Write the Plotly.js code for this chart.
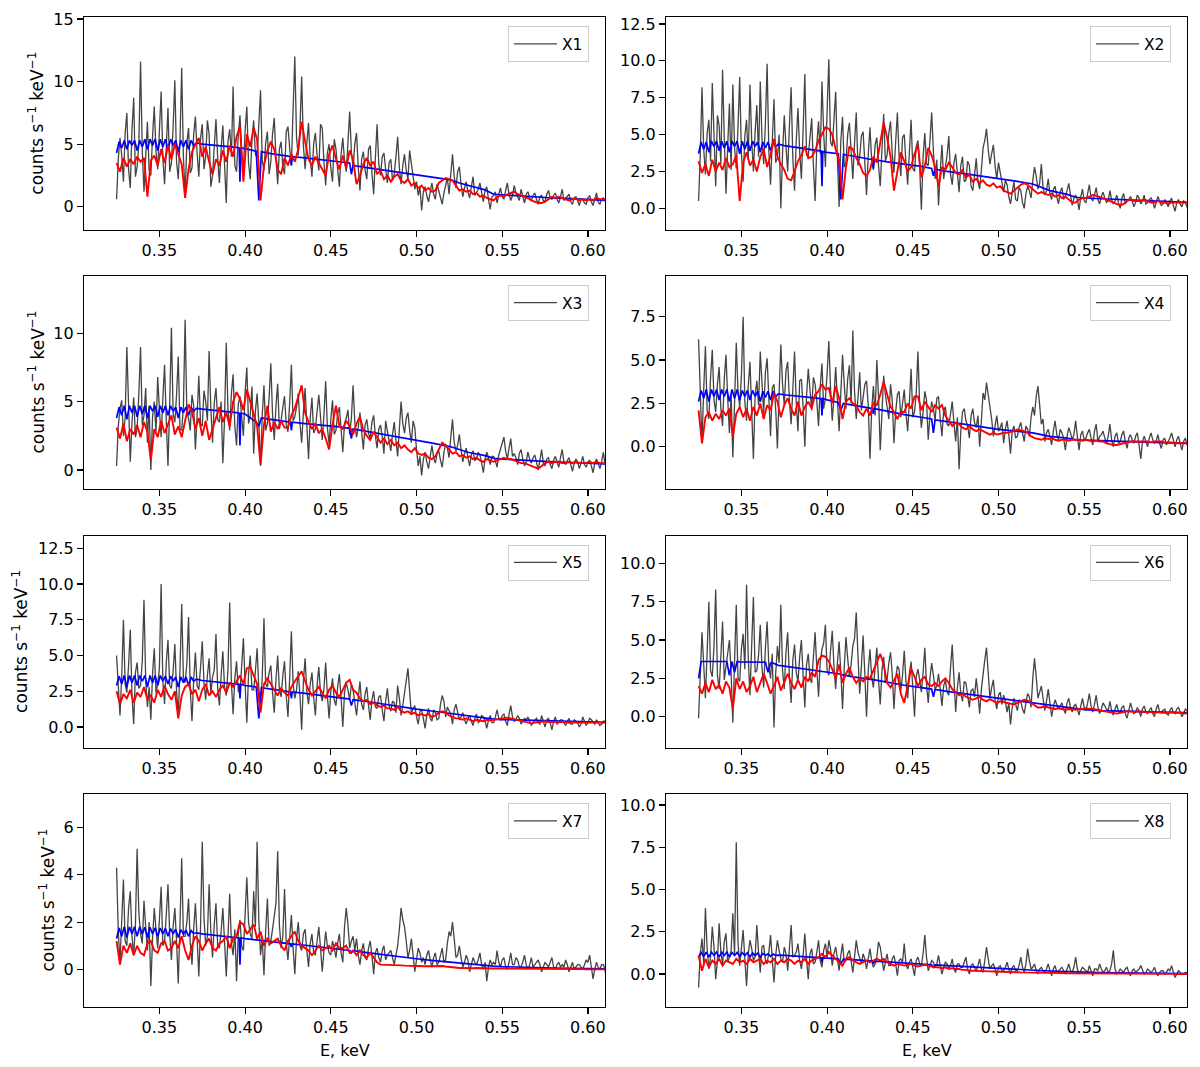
<!DOCTYPE html>
<html><head><meta charset="utf-8">
<script src="https://cdn.plot.ly/plotly-3.0.1.min.js"></script>
<style>html,body{margin:0;padding:0;background:#fff}#chart{width:1200px;height:1067px}</style>
</head><body><div id="chart"></div>
<script>
// Energy grid (keV) for observed spectra (1 eV bins)
const EG = [
0.325,0.326,0.327,0.328,0.329,0.330,0.331,0.332,0.333,0.334,0.335,0.336,0.337,0.338,0.339,0.340,0.341,0.342,0.343,0.344,
0.345,0.346,0.347,0.348,0.349,0.350,0.351,0.352,0.353,0.354,0.355,0.356,0.357,0.358,0.359,0.360,0.361,0.362,0.363,0.364,
0.365,0.366,0.367,0.368,0.369,0.370,0.371,0.372,0.373,0.374,0.375,0.376,0.377,0.378,0.379,0.380,0.381,0.382,0.383,0.384,
0.385,0.386,0.387,0.388,0.389,0.390,0.391,0.392,0.393,0.394,0.395,0.396,0.397,0.398,0.399,0.400,0.401,0.402,0.403,0.404,
0.405,0.406,0.407,0.408,0.409,0.410,0.411,0.412,0.413,0.414,0.415,0.416,0.417,0.418,0.419,0.420,0.421,0.422,0.423,0.424,
0.425,0.426,0.427,0.428,0.429,0.430,0.431,0.432,0.433,0.434,0.435,0.436,0.437,0.438,0.439,0.440,0.441,0.442,0.443,0.444,
0.445,0.446,0.447,0.448,0.449,0.450,0.451,0.452,0.453,0.454,0.455,0.456,0.457,0.458,0.459,0.460,0.461,0.462,0.463,0.464,
0.465,0.466,0.467,0.468,0.469,0.470,0.471,0.472,0.473,0.474,0.475,0.476,0.477,0.478,0.479,0.480,0.481,0.482,0.483,0.484,
0.485,0.486,0.487,0.488,0.489,0.490,0.491,0.492,0.493,0.494,0.495,0.496,0.497,0.498,0.499,0.500,0.501,0.502,0.503,0.504,
0.505,0.506,0.507,0.508,0.509,0.510,0.511,0.512,0.513,0.514,0.515,0.516,0.517,0.518,0.519,0.520,0.521,0.522,0.523,0.524,
0.525,0.526,0.527,0.528,0.529,0.530,0.531,0.532,0.533,0.534,0.535,0.536,0.537,0.538,0.539,0.540,0.541,0.542,0.543,0.544,
0.545,0.546,0.547,0.548,0.549,0.550,0.551,0.552,0.553,0.554,0.555,0.556,0.557,0.558,0.559,0.560,0.561,0.562,0.563,0.564,
0.565,0.566,0.567,0.568,0.569,0.570,0.571,0.572,0.573,0.574,0.575,0.576,0.577,0.578,0.579,0.580,0.581,0.582,0.583,0.584,
0.585,0.586,0.587,0.588,0.589,0.590,0.591,0.592,0.593,0.594,0.595,0.596,0.597,0.598,0.599,0.600,0.601,0.602,0.603,0.604,
0.605,0.606,0.607,0.608,0.609,0.610,0.611];

// Energy grid (keV) for the smoothed fits
const E = [
0.325,0.327,0.329,0.331,0.333,0.335,0.337,0.339,0.341,0.343,
0.345,0.347,0.349,0.351,0.353,0.355,0.357,0.359,0.361,0.363,
0.365,0.367,0.369,0.371,0.373,0.375,0.377,0.379,0.381,0.383,
0.385,0.387,0.389,0.391,0.393,0.395,0.397,0.399,0.401,0.403,
0.405,0.407,0.409,0.411,0.413,0.415,0.417,0.419,0.421,0.423,
0.425,0.427,0.429,0.431,0.433,0.435,0.437,0.439,0.441,0.443,
0.445,0.447,0.449,0.451,0.453,0.455,0.457,0.459,0.461,0.463,
0.465,0.467,0.469,0.471,0.473,0.475,0.477,0.479,0.481,0.483,
0.485,0.487,0.489,0.491,0.493,0.495,0.497,0.499,0.501,0.503,
0.505,0.507,0.509,0.511,0.513,0.515,0.517,0.519,0.521,0.523,
0.525,0.527,0.529,0.531,0.533,0.535,0.537,0.539,0.541,0.543,
0.545,0.547,0.549,0.551,0.553,0.555,0.557,0.559,0.561,0.563,
0.565,0.567,0.569,0.571,0.573,0.575,0.577,0.579,0.581,0.583,
0.585,0.587,0.589,0.591,0.593,0.595,0.597,0.599,0.601,0.603,
0.605,0.607,0.609,0.611];

// Energy grid (keV) for the model curves
const EB = [
0.325,0.3265,0.328,0.3295,0.331,0.3325,0.334,0.3355,0.337,0.3385,
0.340,0.3415,0.343,0.3445,0.346,0.3475,0.349,0.3505,0.352,0.3535,
0.355,0.3565,0.358,0.3595,0.361,0.3625,0.364,0.3655,0.367,0.3685,
0.370,0.3715,
0.375,0.385,0.395,0.3965,0.397,0.3975,0.400,0.4065,
0.408,0.4095,0.415,0.425,0.4265,0.427,0.4275,0.435,0.445,0.455,
0.461,0.462,0.463,0.470,0.480,0.490,0.500,0.510,0.520,0.525,
0.530,0.540,0.545,0.550,0.560,0.570,0.580,0.590,0.600,0.611];

const seriesNames = ['X1','X2','X3','X4','X5','X6','X7','X8'];

// ---- X1 ----
const x1Data = [
0.6,3.8,5.5,4.1,2.0,5.9,7.5,3.0,1.5,6.2,8.7,2.4,3.2,5.0,11.6,4.5,1.2,3.7,6.8,2.9,
2.5,5.6,8.0,4.4,3.0,6.1,9.2,3.9,1.8,4.7,7.9,2.8,3.5,6.4,10.1,3.6,2.2,5.3,11.1,4.0,
0.8,5.1,6.3,2.7,3.1,5.8,7.2,4.3,2.4,5.5,6.6,3.0,4.0,6.9,5.8,1.6,2.5,4.8,7.0,3.9,
1.9,4.6,6.5,3.4,0.3,5.2,6.2,4.0,9.6,3.3,2.8,5.7,7.3,4.4,3.0,6.1,8.0,3.5,2.2,5.4,
6.9,4.2,3.9,6.6,9.3,3.7,2.9,5.1,6.0,2.6,3.6,5.8,7.1,3.9,1.8,4.6,5.2,3.2,2.6,6.0,
6.4,4.7,3.3,7.8,12.0,5.5,4.1,6.3,10.4,4.9,3.0,5.1,6.7,3.8,2.4,5.0,5.9,4.1,2.9,6.6,
6.3,3.6,1.7,4.3,5.0,3.1,2.0,5.4,4.6,3.0,1.6,4.2,5.5,3.7,2.8,5.1,7.6,4.4,3.1,5.0,
5.9,3.2,1.3,3.8,4.4,2.9,2.2,4.6,4.9,2.7,1.0,3.9,6.6,3.4,2.5,4.0,4.3,3.0,1.9,3.5,
3.8,2.1,2.6,4.0,5.6,3.1,1.8,3.3,4.2,2.9,2.2,4.5,3.6,2.4,1.4,2.0,0.9,1.6,-0.3,1.2,
1.6,0.9,0.4,1.2,1.9,1.0,0.6,1.8,1.3,0.7,0.2,1.1,1.7,2.3,1.0,2.6,4.2,2.4,1.5,2.8,
3.2,1.8,0.8,1.5,2.0,1.2,0.7,1.6,2.4,0.9,1.1,1.4,1.9,1.0,0.4,1.3,1.6,0.6,-0.2,0.8,
0.9,1.2,0.3,1.0,1.5,0.8,0.6,1.3,1.9,1.0,0.5,0.9,1.7,1.1,0.8,0.5,1.4,0.9,0.3,1.0,
1.2,0.7,0.5,0.9,1.1,0.6,0.2,0.8,0.9,0.5,0.4,1.0,1.3,0.7,0.6,0.9,1.1,0.6,0.3,0.8,
1.4,0.5,0.7,0.9,1.0,0.4,0.2,0.7,0.8,0.5,0.1,0.6,0.6,0.3,0.2,0.7,0.9,0.4,0.1,0.6,
1.1,0.4,0.2,0.6,0.7,0.5,0.3];
const x1Fit = [
3.5,2.8,3.9,3.2,3.8,3.4,4.0,3.6,3.9,0.8,
3.7,4.1,3.3,4.6,3.5,4.9,3.8,5.0,4.2,3.4,
0.7,3.0,4.4,4.9,5.5,4.0,4.8,3.6,2.6,3.8,
3.3,4.5,3.6,4.9,4.0,5.6,6.4,2.0,5.8,4.8,
6.3,5.4,0.5,3.3,4.5,5.2,4.6,3.0,2.6,3.9,
3.3,4.2,3.6,4.6,6.8,5.2,3.8,3.3,4.0,3.5,
3.0,2.5,4.2,4.9,3.8,3.0,4.1,3.1,4.5,3.8,
1.8,2.5,3.4,3.9,3.3,3.6,2.6,2.9,2.2,2.5,
2.0,2.4,2.6,2.1,1.9,2.2,1.7,1.9,1.5,1.7,
1.3,1.5,1.2,1.3,1.9,2.1,2.3,2.2,2.1,1.7,
1.3,1.4,1.2,1.3,1.0,1.1,0.8,0.9,0.7,0.6,
0.5,0.8,0.9,0.8,1.0,1.1,1.2,1.0,0.9,0.8,
0.7,0.5,0.4,0.3,0.3,0.4,0.6,0.8,0.7,0.8,
0.7,0.6,0.5,0.6,0.7,0.5,0.6,0.5,0.6,0.5,
0.7,0.6,0.6,0.6];
const x1Model = [
4.3,5.2,4.7,5.3,4.6,5.3,4.9,5.3,4.5,5.3,
4.8,5.4,4.6,5.4,4.9,5.4,4.5,5.4,4.8,5.4,
4.6,5.4,4.9,5.3,4.4,5.3,4.8,5.3,4.6,5.3,
4.9,5.1,
5.0,4.9,4.75,4.7,2.0,4.7,4.65,4.45,
0.5,4.4,4.25,4.05,4.0,3.3,4.0,3.9,3.75,3.6,
3.5,2.6,3.3,3.15,2.95,2.8,2.6,2.4,2.15,1.9,
1.7,1.35,1.0,0.95,0.85,0.78,0.7,0.65,0.6,0.5];

// ---- X2 ----
const x2Data = [
0.5,3.6,8.2,4.0,2.3,5.1,6.0,3.2,8.5,4.4,1.5,6.3,5.6,3.0,9.4,4.8,1.0,4.2,7.1,2.6,
8.4,4.1,2.7,5.5,8.9,3.7,1.8,4.9,6.0,3.3,8.4,4.6,2.5,5.2,7.0,3.5,8.6,4.7,3.0,5.8,
9.8,3.9,1.6,4.5,7.4,3.1,3.4,5.0,0.0,3.7,6.3,4.2,2.5,5.6,8.2,3.4,1.2,4.6,6.8,3.8,
2.0,5.3,9.1,3.6,3.5,4.8,6.1,2.9,0.5,4.4,5.9,3.7,8.6,5.1,2.8,6.6,10.1,4.5,4.2,6.0,
7.9,3.4,0.1,4.6,6.2,2.8,3.1,5.0,5.8,3.9,2.0,4.4,6.5,2.9,3.5,4.9,5.2,3.1,0.9,3.6,
5.5,3.3,2.6,4.3,4.8,2.9,1.5,4.0,6.4,3.2,3.6,5.1,5.9,3.7,2.4,4.5,6.5,3.5,2.2,4.8,
5.0,3.1,1.6,3.8,6.0,2.7,2.5,4.2,4.6,2.8,-0.1,3.5,5.1,3.0,2.9,4.6,6.5,3.9,2.0,3.3,
0.2,2.5,4.3,2.0,2.7,3.6,4.9,2.3,1.6,3.1,3.7,2.6,1.1,2.9,3.5,1.8,1.9,3.2,2.9,1.5,
1.2,2.2,3.4,1.8,1.3,2.6,4.1,4.6,5.4,4.0,3.0,3.7,4.3,2.9,2.0,3.1,2.4,1.6,1.1,1.9,
1.6,0.8,0.3,1.1,1.8,0.6,0.5,1.4,1.2,0.4,0.0,1.0,1.5,1.2,0.7,1.9,2.8,2.2,1.3,1.7,
3.0,1.4,0.9,1.2,2.0,1.0,0.6,1.3,1.5,0.8,0.3,1.1,1.4,0.6,0.8,1.2,1.7,0.9,0.2,0.7,
0.9,0.6,-0.1,0.8,1.3,0.5,0.4,1.0,1.6,0.7,0.5,0.9,1.4,0.6,0.3,0.8,1.1,0.7,0.4,0.5,
1.2,0.6,0.3,0.5,0.9,0.4,0.0,0.7,1.0,0.3,0.5,0.6,0.8,0.5,0.1,0.4,0.9,0.7,0.3,0.5,
0.9,0.3,0.4,0.6,0.7,0.5,0.0,0.4,0.8,0.5,0.2,0.3,0.6,0.4,0.1,0.5,0.7,0.2,-0.2,0.4,
0.6,0.3,0.1,0.5,0.4,0.1,0.2];
const x2Fit = [
3.2,2.4,3.0,2.2,3.3,2.5,3.1,2.6,3.4,2.8,
3.0,3.6,0.5,3.1,3.8,2.9,3.3,2.5,3.5,4.0,
2.8,3.6,4.7,3.5,3.0,2.6,2.0,1.9,2.5,3.2,
3.6,4.2,3.4,3.5,3.9,4.6,5.0,5.5,5.4,5.0,
4.0,3.2,0.6,2.8,4.2,4.0,3.4,3.0,2.4,2.2,
2.6,3.5,3.1,4.6,5.8,4.8,3.5,1.2,2.6,3.8,
3.2,2.5,2.8,3.7,4.3,2.1,2.9,4.1,3.6,2.8,
1.5,2.8,2.6,3.1,2.8,2.4,2.3,2.6,2.1,2.3,
1.8,2.0,1.7,1.9,1.6,1.5,1.7,1.4,1.5,1.2,
1.1,1.0,1.2,1.4,1.6,1.7,1.6,1.4,1.2,1.0,
1.1,1.0,0.9,1.0,0.8,0.9,0.7,0.8,0.6,0.4,
0.4,0.6,0.7,0.7,0.8,0.9,0.85,0.8,0.7,0.6,
0.5,0.4,0.3,0.2,0.3,0.5,0.6,0.5,0.5,0.5,
0.6,0.5,0.4,0.4,0.5,0.4,0.4,0.3,0.4,0.4,
0.4,0.4,0.4,0.4];
const x2Model = [
3.7,4.5,4.0,4.5,3.8,4.55,4.2,4.55,3.9,4.55,
4.1,4.55,3.8,4.55,4.2,4.55,3.7,4.55,4.0,4.55,
3.9,4.55,4.2,4.5,3.8,4.5,4.1,4.5,3.9,4.5,
4.2,4.35,
4.25,4.1,3.9,3.88,1.5,3.85,3.8,3.7,
0.6,3.65,3.55,3.35,3.3,2.7,3.3,3.15,3.0,2.85,
2.7,2.2,2.65,2.5,2.35,2.2,2.0,1.85,1.65,1.4,
1.2,0.95,0.75,0.7,0.65,0.6,0.55,0.5,0.45,0.4];

// ---- X3 ----
const x3Data = [
0.3,3.2,4.5,5.1,2.5,3.8,9.0,4.0,0.6,3.5,5.3,2.4,3.0,5.6,9.0,3.3,4.0,6.0,2.0,4.7,
0.0,3.9,5.0,2.8,6.8,4.4,2.4,5.2,7.7,3.6,0.3,4.8,10.4,4.1,3.5,5.5,8.3,3.0,2.9,4.6,
11.0,4.2,3.8,2.9,5.5,4.7,1.5,4.0,6.9,3.4,3.2,5.8,5.0,3.6,8.7,4.5,2.0,4.9,6.0,3.7,
3.5,5.0,0.5,3.7,9.3,4.4,2.9,5.6,7.0,3.2,1.8,4.8,5.4,3.9,2.5,5.7,7.5,3.4,4.0,6.1,
1.2,4.3,5.6,3.5,0.3,4.0,6.2,2.9,3.4,5.3,7.8,4.1,2.2,4.7,6.3,3.0,3.6,4.6,5.4,3.3,
2.8,4.9,7.7,3.6,3.9,4.6,5.6,3.4,2.0,4.2,6.0,3.3,0.8,3.8,5.3,2.7,3.0,4.3,5.5,3.9,
2.2,4.0,6.5,3.1,1.9,3.7,5.1,2.6,2.9,4.1,4.6,3.0,1.3,3.4,3.8,4.4,2.6,3.8,6.2,3.5,
2.4,3.1,4.2,2.8,1.5,3.3,3.7,2.7,2.3,3.5,4.0,2.5,1.6,3.0,3.3,2.4,1.2,3.6,2.9,2.2,
1.4,2.6,3.5,2.2,1.0,3.0,5.0,3.4,2.7,3.8,4.2,2.9,2.0,3.6,3.1,1.5,0.3,1.0,-0.4,0.8,
1.3,0.6,0.1,1.0,1.8,0.9,0.5,1.2,1.4,0.7,0.2,1.3,1.9,1.6,0.9,2.4,3.7,2.0,1.4,1.8,
2.6,1.5,0.6,1.2,1.6,0.9,0.3,1.1,1.4,0.7,0.8,1.3,1.1,0.5,-0.2,0.8,1.3,0.9,0.4,1.0,
1.0,0.7,0.2,1.1,1.6,1.9,2.4,1.4,0.8,1.6,2.3,1.0,1.2,0.9,0.4,1.2,1.5,0.8,0.3,0.6,
1.3,0.8,0.5,0.9,1.1,0.6,0.0,0.7,1.5,0.5,0.3,0.8,0.9,0.4,0.1,0.7,1.0,0.6,0.2,0.9,
1.5,0.6,0.4,0.7,0.9,0.4,-0.1,0.5,0.8,0.6,0.1,0.5,1.0,0.4,0.2,0.6,0.7,0.3,-0.2,0.5,
0.8,0.5,0.1,0.6,1.3,0.4,0.5];
const x3Fit = [
3.1,2.3,3.4,2.1,3.0,2.6,3.3,2.4,3.5,2.8,
0.7,3.0,2.4,3.6,2.7,3.4,4.0,2.6,3.2,2.4,
3.5,4.8,4.3,3.0,3.8,2.5,3.6,2.2,3.0,3.9,
4.6,3.5,4.2,3.2,5.0,5.7,5.2,4.4,5.9,5.0,
4.0,3.2,0.4,3.3,4.7,2.8,3.5,3.0,3.6,3.1,
3.1,4.0,4.5,5.3,6.2,4.2,3.5,3.0,3.4,2.7,
3.0,2.3,1.5,3.3,4.7,3.2,3.0,3.6,3.2,2.6,
3.4,3.9,2.9,2.5,2.2,2.8,2.4,2.0,2.3,1.9,
2.2,1.8,2.0,1.6,1.8,1.5,1.3,1.6,1.2,1.1,
1.2,0.9,0.8,1.0,1.5,2.0,1.8,1.5,1.2,1.3,
1.0,1.1,0.9,1.0,0.8,0.9,0.7,0.6,0.8,0.7,
0.6,0.7,0.8,0.9,0.8,0.8,0.7,0.6,0.5,0.5,
0.4,0.3,0.2,0.1,0.3,0.5,0.6,0.5,0.6,0.6,
0.5,0.5,0.6,0.5,0.6,0.5,0.5,0.5,0.6,0.5,
0.6,0.5,0.5,0.5];
const x3Model = [
3.8,4.6,4.0,4.7,3.7,4.7,4.2,4.7,3.9,4.7,
4.1,4.7,3.8,4.7,4.3,4.7,3.9,4.7,4.2,4.7,
4.0,4.7,4.3,4.6,3.8,4.6,4.2,4.6,4.0,4.6,
4.3,4.5,
4.45,4.35,4.2,4.15,1.8,4.15,4.1,3.5,
3.2,3.8,3.7,3.55,3.5,2.9,3.5,3.4,3.3,3.15,
3.05,2.3,3.0,2.85,2.6,2.4,2.2,1.95,1.7,1.5,
1.3,1.05,0.85,0.8,0.72,0.65,0.6,0.55,0.5,0.45];

// ---- X4 ----
const x4Data = [
6.2,2.4,0.2,3.3,5.8,2.1,1.6,4.0,5.6,2.7,2.0,3.6,4.6,2.2,1.2,3.9,5.3,2.8,0.8,3.0,
-0.6,2.5,6.0,3.2,2.3,4.1,7.5,2.6,1.5,3.5,4.9,2.0,-0.7,3.0,3.8,2.4,5.5,3.7,1.9,4.3,
5.1,2.8,0.6,3.4,3.6,2.2,-0.1,3.1,5.9,3.6,2.4,4.4,4.9,2.7,1.3,3.3,5.5,2.5,0.9,3.8,
3.9,2.3,0.0,2.9,4.5,3.3,2.1,4.0,3.6,2.6,1.2,3.5,4.8,2.2,2.8,4.2,6.1,3.4,1.5,2.9,
4.6,2.7,0.9,3.1,5.3,3.6,2.2,3.9,4.7,2.5,6.7,3.2,1.6,2.8,4.3,2.1,2.9,3.6,3.8,2.4,
-0.7,2.1,3.5,1.8,5.0,2.9,-0.2,2.3,4.1,3.0,2.4,1.6,3.6,2.7,0.2,2.0,3.0,3.2,1.7,2.5,
3.3,1.9,0.9,2.6,4.5,1.7,2.0,3.1,5.5,2.4,1.1,2.0,3.2,2.7,0.4,1.8,2.6,2.2,1.5,2.8,
2.9,1.6,0.6,2.1,2.3,1.3,1.2,1.9,2.6,1.4,0.3,1.7,-1.3,0.9,2.0,2.2,1.5,1.2,0.5,1.8,
2.2,1.4,1.1,1.8,0.0,1.5,3.1,2.7,3.7,3.0,2.4,1.6,0.6,1.3,1.8,0.9,1.1,1.4,0.2,1.0,
1.5,0.7,-0.4,0.9,1.2,0.5,0.6,1.1,1.4,0.8,0.3,1.2,1.0,0.6,1.7,2.3,1.8,2.9,3.5,2.4,
1.3,1.6,0.3,0.8,1.0,0.6,0.1,0.9,1.5,0.7,0.4,1.0,0.8,0.5,-0.2,0.6,1.1,0.8,0.4,0.7,
1.5,0.6,-0.2,0.7,0.9,0.4,0.5,0.8,1.0,0.5,0.1,0.9,1.3,0.3,0.6,0.7,0.9,0.5,0.2,0.6,
1.3,0.4,0.0,0.6,0.8,0.2,0.3,0.7,0.9,0.3,-0.1,0.5,0.7,0.4,0.2,0.6,0.8,0.1,-0.7,0.3,
0.6,0.3,0.0,0.5,0.8,0.4,0.2,0.3,0.7,0.2,-0.1,0.4,0.5,0.1,0.3,0.5,0.8,0.3,0.0,0.4,
0.6,0.2,-0.2,0.3,0.5,0.1,0.3];
const x4Fit = [
2.1,0.2,1.7,2.0,1.5,1.9,1.6,2.1,1.8,2.2,
0.6,1.9,2.3,1.7,2.2,1.5,2.3,1.8,2.5,1.6,
2.4,2.1,3.1,2.6,1.7,2.4,2.8,2.2,1.8,2.6,
1.8,2.3,2.6,2.2,3.0,3.2,3.6,3.3,3.4,2.5,
3.5,2.8,1.6,2.6,2.8,2.5,2.4,2.0,1.8,2.2,
1.8,2.5,2.4,3.0,3.75,3.0,2.3,2.0,1.6,2.0,
2.0,2.5,2.2,2.9,2.9,2.1,2.6,2.3,2.0,2.4,
2.2,2.4,1.8,1.5,1.2,1.4,1.3,1.1,1.0,1.2,
1.0,0.9,1.0,0.9,0.8,0.7,0.8,0.7,0.75,0.8,
0.8,0.85,0.9,1.0,0.95,0.9,0.8,0.6,0.5,0.45,
0.4,0.5,0.45,0.5,0.4,0.35,0.4,0.4,0.35,0.4,
0.4,0.4,0.35,0.4,0.35,0.3,0.35,0.3,0.3,0.2,
0.15,0.1,0.1,0.15,0.2,0.25,0.3,0.3,0.3,0.3,
0.3,0.3,0.25,0.3,0.3,0.3,0.25,0.25,0.25,0.2,
0.2,0.2,0.2,0.2];
const x4Model = [
2.6,3.25,2.8,3.3,2.6,3.3,2.9,3.3,2.7,3.3,
2.9,3.3,2.6,3.3,2.8,3.3,2.7,3.25,2.9,3.25,
2.7,3.25,2.9,3.2,2.6,3.2,2.85,3.2,2.7,3.2,
2.9,3.05,
3.0,2.9,2.8,2.78,1.8,2.78,2.7,2.55,
2.1,2.5,2.4,2.25,2.2,1.9,2.2,2.05,1.85,1.7,
1.6,0.8,1.55,1.45,1.3,1.15,1.0,0.9,0.8,0.7,
0.6,0.5,0.4,0.38,0.34,0.3,0.27,0.24,0.22,0.2];

// ---- X5 ----
const x5Data = [
5.0,2.6,0.8,3.5,7.5,3.0,2.4,4.3,6.8,2.2,0.2,3.8,4.5,2.7,2.9,4.6,8.9,3.3,1.4,2.8,
0.5,3.7,5.5,2.4,3.0,4.1,10.0,3.2,1.6,4.5,6.1,2.9,2.7,3.9,5.8,2.5,0.9,4.0,8.6,3.4,
3.1,4.4,7.7,2.6,0.4,3.3,5.2,2.9,2.6,4.2,6.0,3.1,1.9,3.6,4.8,2.3,3.5,4.0,6.5,2.7,
1.5,3.6,5.3,2.8,2.2,4.0,8.7,3.1,0.9,3.4,4.6,2.5,2.4,4.3,6.2,3.0,0.3,3.7,5.0,2.6,
2.6,3.9,5.5,2.7,1.4,3.5,7.6,3.0,2.8,3.8,4.3,2.4,1.0,3.3,5.0,2.6,2.1,3.6,4.6,2.2,
0.7,3.4,6.7,3.0,2.0,2.6,3.9,2.2,-0.2,3.2,4.8,2.5,1.6,3.0,3.8,2.1,0.8,2.9,4.2,2.4,
1.8,2.7,4.5,2.2,0.6,2.5,3.4,1.9,1.5,2.8,3.7,2.0,0.0,2.4,3.1,2.6,1.9,3.0,2.6,1.7,
0.8,2.0,3.2,1.6,1.2,2.3,2.8,1.5,0.5,1.9,2.5,1.4,1.3,2.1,2.2,1.2,0.4,1.8,2.7,1.5,
1.1,1.8,1.7,1.0,2.9,2.0,0.8,1.5,2.3,3.0,4.1,2.5,0.9,1.3,1.5,0.7,0.2,1.1,1.2,0.6,
-0.1,0.8,1.3,0.6,0.4,1.2,1.0,0.5,0.6,1.6,2.2,1.8,0.7,1.4,1.2,0.9,0.2,1.2,1.6,1.0,
0.5,0.7,1.0,0.5,0.2,0.6,0.8,0.4,0.1,0.6,0.9,0.3,0.4,0.8,0.7,0.4,-0.1,0.5,0.8,0.3,
0.3,0.7,1.2,0.6,0.5,0.8,0.9,0.4,0.1,0.9,1.5,0.7,0.4,0.5,0.8,0.6,0.2,0.4,0.6,0.5,
0.7,0.4,0.1,0.3,0.5,0.6,0.3,0.2,0.8,0.4,0.0,0.5,0.6,0.3,-0.2,0.4,0.7,0.2,0.3,0.5,
0.5,0.3,0.1,0.4,0.6,0.2,0.2,0.5,0.4,0.3,0.0,0.2,0.7,0.4,0.1,0.3,0.6,0.5,0.3,0.2,
0.5,0.3,0.1,0.2,0.4,0.4,0.2];
const x5Fit = [
2.5,1.6,2.3,2.0,2.6,1.7,2.4,2.1,2.8,1.9,
2.2,1.7,2.6,2.1,2.9,2.3,1.9,2.5,0.6,2.2,
2.8,3.0,2.3,2.6,1.8,2.6,3.0,2.2,2.5,2.1,
2.6,2.9,2.4,3.1,2.8,3.2,3.6,3.0,4.1,4.2,
3.6,3.0,1.0,3.0,3.4,3.0,2.5,2.2,2.7,2.4,
2.2,2.8,3.2,3.6,3.9,3.2,2.6,2.2,2.5,2.8,
2.4,2.0,2.6,2.9,2.4,2.1,2.6,3.1,3.3,2.6,
2.4,2.0,1.8,1.9,1.6,1.7,1.5,1.4,1.5,1.3,
1.3,1.2,1.4,1.1,1.0,1.1,0.9,1.0,0.8,0.9,
0.8,0.9,0.7,0.8,1.0,1.1,1.0,0.8,0.7,0.6,
0.6,0.5,0.6,0.5,0.4,0.5,0.45,0.4,0.5,0.45,
0.5,0.55,0.6,0.6,0.65,0.6,0.55,0.5,0.45,0.4,
0.3,0.25,0.3,0.35,0.4,0.4,0.35,0.35,0.4,0.35,
0.4,0.35,0.3,0.35,0.3,0.3,0.35,0.3,0.3,0.3,
0.3,0.3,0.3,0.3];
const x5Model = [
2.9,3.55,3.0,3.6,2.8,3.6,3.1,3.6,2.9,3.6,
3.2,3.6,2.8,3.6,3.1,3.6,2.9,3.6,3.2,3.55,
3.0,3.55,3.2,3.5,2.8,3.5,3.1,3.5,2.9,3.5,
3.2,3.35,
3.25,3.15,3.0,2.98,2.0,2.98,2.9,2.8,
0.6,2.75,2.65,2.5,2.45,2.0,2.45,2.35,2.2,2.05,
1.95,1.5,1.9,1.8,1.6,1.4,1.25,1.1,0.95,0.85,
0.75,0.62,0.55,0.52,0.48,0.44,0.4,0.37,0.35,0.32];

// ---- X6 ----
const x6Data = [
-0.1,2.9,5.5,3.4,1.2,4.2,7.5,3.0,2.6,4.6,8.3,2.7,1.8,3.9,6.2,2.4,3.4,4.1,5.0,2.8,
-0.4,3.6,7.3,2.5,2.3,4.4,5.4,3.1,8.6,3.8,1.4,4.7,7.8,2.9,3.0,4.0,6.0,3.2,1.9,4.5,
6.2,3.3,2.5,4.1,-0.7,2.8,4.6,3.5,7.3,3.0,1.8,4.2,5.5,2.6,0.9,3.7,4.7,2.9,2.3,3.9,
5.0,2.7,0.6,3.4,4.1,2.5,2.2,3.9,5.5,3.1,1.3,3.6,4.4,4.8,6.0,3.0,2.7,4.3,5.6,3.3,
1.8,3.5,4.9,2.9,0.5,3.2,5.2,3.8,2.6,3.4,4.6,5.1,6.8,4.0,1.5,3.3,5.3,2.8,0.0,3.0,
4.4,2.6,1.9,3.2,4.5,2.4,0.8,3.0,3.9,2.2,2.4,3.5,4.2,2.8,0.5,2.5,3.3,3.1,1.7,2.7,
4.3,2.3,1.2,2.8,3.6,1.9,0.0,2.6,3.1,2.4,1.6,2.9,4.5,2.1,0.9,2.5,3.5,2.7,1.8,2.0,
2.8,1.8,0.7,2.0,2.4,1.6,1.4,3.2,4.7,2.5,0.3,1.9,2.9,1.5,1.0,2.3,2.2,1.4,0.6,1.7,
1.8,1.3,2.5,1.5,0.2,1.8,3.0,3.7,4.5,2.8,1.2,1.9,2.4,1.1,0.5,1.4,1.6,0.8,1.4,1.0,
0.3,0.9,-0.5,0.6,1.2,0.8,0.4,1.1,1.0,0.5,0.2,0.9,1.5,1.3,0.6,2.5,3.8,2.6,1.2,1.6,
2.0,1.2,0.4,1.0,1.8,0.9,0.0,0.6,1.1,0.8,0.5,0.7,0.9,0.5,0.2,0.9,1.2,0.6,0.3,0.7,
0.8,0.5,0.1,0.7,1.2,0.6,0.4,0.9,1.5,0.7,0.3,0.8,1.4,0.6,0.2,0.5,0.9,0.7,0.5,0.4,
1.0,0.4,0.1,0.5,0.8,0.3,0.3,0.6,0.7,0.2,-0.1,0.4,0.9,0.5,0.2,0.3,0.6,0.4,0.0,0.5,
0.7,0.3,0.2,0.4,0.6,0.2,0.0,0.5,0.8,0.3,0.3,0.4,0.5,0.2,0.1,0.4,0.6,0.3,0.2,0.5,
0.6,0.3,0.0,0.2,0.5,0.4,0.3];
const x6Fit = [
2.0,1.5,2.2,1.6,2.4,1.8,2.1,1.5,2.3,1.9,
0.5,2.5,1.8,2.3,1.6,2.0,2.6,1.6,2.2,2.8,
2.2,1.5,2.0,2.6,1.7,2.3,2.8,2.2,1.8,2.4,
1.9,2.6,2.3,2.9,2.6,3.7,4.0,3.9,3.6,3.1,
2.5,3.4,2.2,2.8,3.2,2.6,2.2,2.5,2.3,2.6,
2.5,3.0,3.6,4.1,3.4,2.2,1.9,2.4,2.8,1.5,
0.9,2.0,3.15,2.6,2.0,2.4,2.6,2.1,2.0,2.2,
2.0,2.3,2.5,2.2,1.8,1.6,1.4,1.5,1.3,1.2,
1.1,1.2,1.3,1.1,1.0,1.15,1.0,0.9,1.0,0.95,
0.9,0.85,0.8,0.9,1.0,1.1,1.05,0.9,0.7,0.6,
0.6,0.7,0.6,0.55,0.5,0.55,0.5,0.45,0.5,0.45,
0.45,0.5,0.5,0.55,0.5,0.5,0.45,0.45,0.4,0.35,
0.3,0.25,0.2,0.25,0.3,0.35,0.35,0.3,0.35,0.3,
0.3,0.3,0.3,0.25,0.3,0.25,0.25,0.25,0.3,0.25,
0.25,0.25,0.2,0.25];
const x6Model = [
2.5,3.6,3.6,3.6,3.6,3.6,3.6,3.6,3.6,3.6,
3.6,3.6,2.7,3.6,2.9,3.6,3.58,3.58,3.58,3.58,
3.57,3.57,3.56,3.56,3.55,3.55,3.55,2.9,3.5,3.5,
3.45,3.35,
3.3,3.15,3.0,2.98,2.98,2.98,2.9,2.8,
2.75,2.73,2.6,2.45,2.42,2.42,2.4,2.25,2.05,1.9,
1.8,1.3,1.78,1.65,1.5,1.35,1.2,1.05,0.9,0.8,
0.72,0.58,0.5,0.46,0.4,0.36,0.33,0.3,0.28,0.26];

// ---- X7 ----
const x7Data = [
4.3,1.6,0.3,2.2,3.8,1.2,1.0,2.6,3.3,1.4,0.6,1.9,5.1,2.4,1.5,1.1,2.9,1.8,0.8,2.0,
-0.7,1.3,2.6,1.7,0.9,2.1,3.5,1.0,1.2,2.3,3.6,1.5,0.4,1.8,2.6,1.2,-0.6,1.9,4.7,1.4,
1.4,2.0,3.0,1.1,0.2,1.7,2.8,1.3,-0.3,1.8,5.4,2.2,1.0,1.4,3.6,1.6,0.5,1.9,2.8,1.0,
0.9,1.6,2.6,1.2,-0.3,1.4,3.2,1.1,0.6,1.7,-0.5,1.5,2.1,1.0,0.8,2.3,3.9,2.0,1.5,1.3,
3.3,1.8,5.4,2.1,0.6,1.3,-0.25,1.6,3.0,1.0,1.2,1.7,2.4,2.8,5.0,1.9,0.9,1.4,3.4,1.1,
0.4,1.2,2.3,0.9,-0.2,1.3,2.0,1.0,0.8,1.5,1.7,0.8,0.1,1.1,1.5,0.7,0.6,1.2,1.8,0.9,
-0.1,0.8,1.6,1.0,0.7,0.6,1.2,0.9,0.5,1.1,1.5,0.7,0.3,1.8,2.6,1.9,0.9,1.2,1.4,0.8,
1.3,0.6,0.2,0.8,1.1,0.5,0.4,0.9,1.2,0.6,-0.2,0.7,0.9,0.5,0.3,0.8,1.0,0.4,0.6,0.7,
0.8,0.5,0.2,0.6,1.0,1.7,2.6,2.1,1.8,1.2,0.5,0.8,1.3,0.6,-0.1,0.4,0.9,0.7,0.3,0.5,
0.2,0.6,0.8,0.4,0.1,0.5,0.7,0.2,0.3,0.6,0.9,0.3,0.4,1.1,1.6,1.4,2.0,1.3,0.5,0.6,
1.0,0.5,0.1,0.3,0.6,0.4,-0.1,0.2,0.5,0.3,0.2,0.4,0.7,0.2,0.0,0.3,-0.5,0.1,0.4,0.2,
0.3,0.2,0.8,0.3,0.1,0.4,0.5,0.1,0.0,0.3,0.7,0.2,0.2,0.5,0.4,0.1,0.1,0.3,0.6,0.2,
0.0,0.2,0.5,0.1,0.2,0.3,0.4,0.2,-0.1,0.1,0.3,0.2,0.1,0.3,0.5,0.1,0.0,0.2,0.3,0.1,
0.2,0.1,0.4,0.2,-0.1,0.1,0.3,0.0,0.1,0.2,0.2,0.1,0.0,0.2,0.4,0.3,0.6,0.1,-0.4,0.0,
0.3,0.1,0.0,0.2,0.2,0.0,-0.6];
const x7Fit = [
1.2,0.2,1.0,0.7,1.1,0.6,1.0,0.7,0.6,1.1,
1.2,0.8,0.7,1.1,1.2,0.8,0.9,1.2,0.9,1.4,
0.8,0.4,1.0,1.4,1.2,0.8,1.1,1.3,0.9,0.8,
1.1,1.2,1.4,0.9,1.3,1.4,2.0,1.9,1.5,1.7,
1.9,1.3,1.6,1.0,1.3,1.1,1.2,1.3,1.0,0.8,
1.2,1.4,1.6,1.2,1.0,0.9,0.8,0.6,0.8,1.0,
0.8,0.9,1.0,0.8,1.1,0.9,0.9,1.0,0.7,0.8,
0.6,0.8,0.6,0.5,0.7,0.5,0.3,0.2,0.2,0.2,
0.2,0.2,0.18,0.17,0.16,0.15,0.15,0.15,0.14,0.14,
0.13,0.13,0.14,0.15,0.15,0.14,0.12,0.1,0.08,0.07,
0.06,0.06,0.05,0.05,0.05,0.06,0.05,0.05,0.04,0.04,
0.04,0.04,0.04,0.04,0.03,0.03,0.03,0.03,0.03,0.03,
0.02,0.02,0.02,0.02,0.02,0.02,0.02,0.02,0.02,0.02,
0.01,0.01,0.01,0.01,0.01,0.01,0.01,0.0,0.0,0.0,
0.0,0.0,0.0,0.0];
const x7Model = [
1.3,1.75,1.4,1.8,1.35,1.8,1.5,1.8,1.4,1.8,
1.5,1.78,1.35,1.78,1.5,1.76,1.4,1.75,1.5,1.74,
1.4,1.73,1.5,1.7,1.35,1.68,1.5,1.66,1.4,1.64,
1.52,1.55,
1.5,1.42,1.34,1.33,0.2,1.33,1.3,1.25,
1.23,1.22,1.18,1.1,1.08,0.95,1.08,1.02,0.93,0.85,
0.8,0.7,0.79,0.72,0.62,0.53,0.45,0.37,0.3,0.26,
0.22,0.17,0.14,0.12,0.09,0.07,0.05,0.04,0.03,0.02];

// ---- X8 ----
const x8Data = [
-0.8,1.2,2.1,0.6,3.9,1.5,0.3,1.0,2.8,1.6,-0.3,0.8,3.0,1.3,0.6,1.9,2.4,0.7,1.0,1.4,
3.6,1.1,7.8,1.9,0.5,1.4,2.6,0.9,-0.7,1.2,2.0,1.5,0.8,1.0,2.9,1.3,0.1,1.6,1.7,0.8,
0.6,1.3,2.3,0.9,-0.5,1.1,2.0,1.4,0.9,0.7,1.6,1.2,0.2,1.5,2.9,1.0,1.1,1.3,1.8,0.8,
0.3,1.1,2.4,0.9,-0.3,1.2,1.5,0.6,0.7,1.3,2.0,0.8,0.4,1.4,1.8,1.0,2.0,1.5,0.5,1.2,
1.6,0.9,0.2,1.1,1.8,0.7,0.8,1.2,1.4,0.8,0.1,1.0,2.0,1.3,0.9,0.6,1.2,0.9,0.3,1.0,
1.5,0.8,0.4,0.6,1.0,1.9,1.6,0.9,0.2,0.7,1.2,0.5,0.5,0.9,1.1,0.6,-0.1,0.8,0.9,0.7,
1.8,0.6,0.3,0.7,0.9,0.4,-0.1,0.8,1.0,0.6,0.5,1.2,2.3,1.0,0.2,0.5,0.8,0.7,0.4,0.6,
1.1,0.5,0.0,0.4,0.7,0.6,0.3,0.5,0.9,0.3,0.1,0.6,0.6,0.4,0.4,0.7,1.0,0.3,0.0,0.5,
0.6,0.4,0.2,0.5,0.9,0.3,0.1,0.8,1.6,0.9,0.3,0.5,0.6,0.3,-0.1,0.4,0.5,0.2,0.2,0.4,
0.7,0.3,0.0,0.4,0.5,0.2,0.2,0.5,1.0,0.4,0.1,0.6,1.5,0.8,0.3,0.4,0.6,0.2,0.0,0.3,
0.4,0.2,0.1,0.3,0.6,0.2,-0.1,0.3,0.5,0.1,0.2,0.3,0.4,0.2,0.0,0.3,0.6,0.2,0.1,0.4,
1.0,0.3,0.0,0.2,0.4,0.3,0.2,0.1,0.5,0.2,-0.1,0.3,0.3,0.2,0.6,0.3,0.1,0.2,0.4,0.1,
0.2,0.6,1.4,0.3,0.0,0.1,0.3,0.2,0.1,0.3,0.4,0.1,-0.1,0.2,0.3,0.1,0.2,0.3,0.5,0.2,
0.0,0.1,0.3,0.2,0.1,0.2,0.4,0.1,-0.1,0.1,0.2,0.2,0.0,0.1,0.3,0.2,0.5,0.1,-0.2,0.0,
0.2,0.1,0.0,0.0,0.1,0.1,0.2];
const x8Fit = [
1.1,0.2,0.9,0.4,0.8,0.6,0.9,0.5,0.8,0.7,
0.6,0.9,0.7,0.8,0.6,0.9,0.7,0.8,0.9,0.6,
0.8,0.7,0.9,0.6,0.8,0.7,0.9,0.8,0.6,0.8,
0.7,0.9,0.6,0.8,0.9,1.0,1.2,1.0,1.3,1.1,
0.9,0.7,0.5,0.9,1.0,0.8,0.7,0.6,0.7,0.8,
0.7,0.8,0.9,0.8,0.9,0.7,0.6,0.5,0.6,0.55,
0.5,0.55,0.6,0.5,0.45,0.5,0.55,0.5,0.45,0.4,
0.4,0.35,0.4,0.3,0.35,0.3,0.3,0.25,0.25,0.2,
0.2,0.2,0.2,0.18,0.18,0.16,0.15,0.15,0.14,0.13,
0.12,0.12,0.11,0.11,0.1,0.1,0.1,0.09,0.09,0.08,
0.08,0.07,0.07,0.07,0.06,0.06,0.06,0.05,0.05,0.05,
0.05,0.05,0.04,0.04,0.04,0.04,0.04,0.03,0.03,0.03,
0.03,0.03,0.02,0.02,0.02,0.02,0.02,0.02,0.02,0.02,
0.02,0.02,0.01,0.01,0.01,0.01,0.01,0.01,0.01,0.01,
0.0,0.0,0.0,0.0];
const x8Model = [
1.0,1.28,1.05,1.3,1.0,1.3,1.1,1.3,1.0,1.3,
1.1,1.3,1.0,1.28,1.1,1.28,1.05,1.27,1.1,1.26,
1.0,1.25,1.1,1.24,1.0,1.22,1.1,1.2,1.05,1.18,
1.1,1.12,
1.1,1.03,0.97,0.96,0.7,0.96,0.94,0.9,
0.6,0.88,0.85,0.78,0.77,0.6,0.77,0.72,0.65,0.58,
0.55,0.4,0.54,0.5,0.44,0.38,0.32,0.27,0.22,0.2,
0.18,0.14,0.12,0.11,0.09,0.07,0.06,0.05,0.04,0.03];

const xTicks = [0.35,0.40,0.45,0.50,0.55,0.60];

const dataSets  = [x1Data,x2Data,x3Data,x4Data,x5Data,x6Data,x7Data,x8Data];
const fitSets   = [x1Fit,x2Fit,x3Fit,x4Fit,x5Fit,x6Fit,x7Fit,x8Fit];
const modelSets = [x1Model,x2Model,x3Model,x4Model,x5Model,x6Model,x7Model,x8Model];

// layout configuration
const FONT = '"DejaVu Sans", "Liberation Sans", sans-serif';
const FS = 16;
const colDom = [[0.07, 0.5042], [0.555, 0.9892]];
const rowDom = [[0.7844, 0.9838], [0.5417, 0.7413], [0.2990, 0.4979], [0.0565, 0.2556]];
const yRanges = [[-1.86,15.14],[-1.47,12.95],[-1.39,14.19],[-2.44,9.85],[-1.47,13.38],[-2.04,11.8],[-1.58,7.41],[-1.93,10.63]];
const yDtick = [5,2.5,5,2.5,2.5,2.5,2,2.5];
const yFmt = ['d','.1f','d','.1f','.1f','.1f','d','.1f'];
const legendX = [0.4908, 0.9758];
const legendY = [0.9754, 0.7329, 0.4895, 0.2471];
const yTitleX = [0.030, 0.030, 0.0167, 0.0392];

const traces = [];
const layout = {
  width: 1200, height: 1067,
  margin: {l:0, r:0, t:0, b:0},
  paper_bgcolor: '#fff', plot_bgcolor: '#fff',
  font: {family: FONT, size: FS, color: '#000'},
  annotations: []
};
const mismatch = [];
for (let i = 0; i < 8; i++) {
  const col = i % 2, row = Math.floor(i / 2);
  const sfx = i === 0 ? '' : String(i + 1);
  const xa = 'x' + sfx, ya = 'y' + sfx, lg = 'legend' + sfx;
  if (dataSets[i].length !== EG.length) mismatch.push(seriesNames[i] + ' data ' + dataSets[i].length);
  if (fitSets[i].length !== E.length) mismatch.push(seriesNames[i] + ' fit ' + fitSets[i].length);
  if (modelSets[i].length !== EB.length) mismatch.push(seriesNames[i] + ' model ' + modelSets[i].length);
  traces.push({type:'scatter', mode:'lines', x:EG, y:dataSets[i], xaxis:xa, yaxis:ya,
    name: seriesNames[i], legend: lg, showlegend: true,
    line:{color:'#444444', width:1.3}, hoverinfo:'skip'});
  traces.push({type:'scatter', mode:'lines', x:EB, y:modelSets[i], xaxis:xa, yaxis:ya,
    showlegend:false, line:{color:'#0000ff', width:1.7}, hoverinfo:'skip'});
  traces.push({type:'scatter', mode:'lines', x:E, y:fitSets[i], xaxis:xa, yaxis:ya,
    showlegend:false, line:{color:'#ff0000', width:1.9}, hoverinfo:'skip'});
  const axCommon = {showline:true, mirror:true, linecolor:'#000', linewidth:1.2,
    ticks:'outside', ticklen:6, tickwidth:1.2, tickcolor:'#000',
    showgrid:false, zeroline:false, tickfont:{family:FONT, size:FS, color:'#000'}};
  layout['xaxis' + sfx] = Object.assign({}, axCommon, {domain: colDom[col], anchor: ya,
    range:[0.306, 0.610], tickvals: xTicks, tickformat: '.2f'});
  layout['yaxis' + sfx] = Object.assign({}, axCommon, {domain: rowDom[row], anchor: xa,
    range: yRanges[i], tick0: 0, dtick: yDtick[i], tickformat: yFmt[i]});
  layout[lg] = {x: legendX[col], y: legendY[row], xanchor:'right', yanchor:'top',
    xref:'paper', yref:'paper', itemwidth: 43,
    bgcolor:'rgba(255,255,255,0.8)', bordercolor:'#cccccc', borderwidth:1,
    font:{family:FONT, size:15.5, color:'#000'}};
  if (col === 0) {
    layout.annotations.push({xref:'paper', yref:'paper', x: yTitleX[row],
      y: (rowDom[row][0] + rowDom[row][1]) / 2, textangle:-90, showarrow:false,
      xanchor:'center', yanchor:'middle',
      text:'counts s<sup>−1</sup> keV<sup>−1</sup>', font:{family:FONT, size:17, color:'#000'}});
  }
  if (row === 3) {
    layout.annotations.push({xref:'paper', yref:'paper',
      x: (colDom[col][0] + colDom[col][1]) / 2, y: 0.0159, showarrow:false,
      xanchor:'center', yanchor:'middle', text:'E, keV',
      font:{family:FONT, size:FS, color:'#000'}});
  }
}
Plotly.newPlot('chart', traces, layout, {displayModeBar:false, staticPlot:true}).then(function(){
  if (mismatch.length) throw new Error('length mismatch: ' + mismatch.join('; '));
});
</script>
</body></html>
